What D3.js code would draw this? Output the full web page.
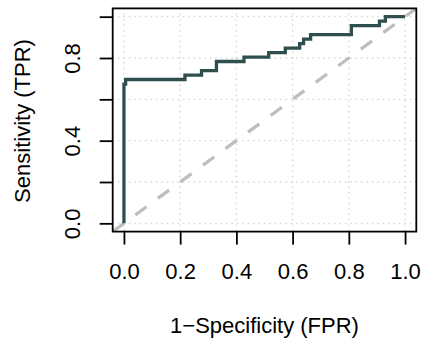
<!DOCTYPE html>
<html>
<head>
<meta charset="utf-8">
<script src="https://cdn.jsdelivr.net/npm/d3@7"></script>
<style>
  html, body { margin: 0; padding: 0; background: #ffffff; }
  svg { display: block; }
  text { font-family: "Liberation Sans", Arial, Helvetica, sans-serif; fill: #000; }
</style>
</head>
<body>
<svg id="chart" width="422" height="338"></svg>
<script>
// ROC curve vertices (1-Specificity, Sensitivity)
const fpr = [0, 0, 0.006, 0.006, 0.217, 0.217, 0.276, 0.276, 0.329, 0.329, 0.427, 0.427,
             0.515, 0.515, 0.574, 0.574, 0.625, 0.625, 0.639, 0.639, 0.664, 0.664,
             0.809, 0.809, 0.909, 0.909, 0.930, 0.930, 1.0];
const tpr = [0, 0.674, 0.674, 0.696, 0.696, 0.717, 0.717, 0.739, 0.739, 0.783, 0.783, 0.804,
             0.804, 0.826, 0.826, 0.848, 0.848, 0.870, 0.870, 0.891, 0.891, 0.913,
             0.913, 0.957, 0.957, 0.978, 0.978, 1.0, 1.0];
const xTicks = [0, 0.2, 0.4, 0.6, 0.8, 1.0];
const yTicks = [0, 0.2, 0.4, 0.6, 0.8, 1.0];
const yTickLabels = ["0.0", "", "0.4", "", "0.8", ""];
const xTitle = "1\u2212Specificity (FPR)";
const yTitle = "Sensitivity (TPR)";

const svg = d3.select("#chart");
const L = 112.7, R = 416.3, T = 8.4, B = 231.6;
const x = d3.scaleLinear().domain([-0.04, 1.04]).range([L, R]);
const y = d3.scaleLinear().domain([-0.04, 1.04]).range([B, T]);

// grid
const grid = svg.append("g");
grid.selectAll("line.gx").data(xTicks).enter().append("line")
  .attr("x1", d => x(d)).attr("x2", d => x(d)).attr("y1", T).attr("y2", B)
  .attr("stroke", "#d3d3d3").attr("stroke-width", 1.4).attr("stroke-dasharray", "1.4,4");
grid.selectAll("line.gy").data(yTicks).enter().append("line")
  .attr("y1", d => y(d)).attr("y2", d => y(d)).attr("x1", L).attr("x2", R)
  .attr("stroke", "#d3d3d3").attr("stroke-width", 1.4).attr("stroke-dasharray", "1.4,4");

// clip
svg.append("clipPath").attr("id", "clip").append("rect")
  .attr("x", L).attr("y", T).attr("width", R - L).attr("height", B - T);

// diagonal reference
svg.append("line").attr("clip-path", "url(#clip)")
  .attr("x1", x(-0.04)).attr("y1", y(-0.04)).attr("x2", x(1.04)).attr("y2", y(1.04))
  .attr("stroke", "#bebebe").attr("stroke-width", 3.3).attr("stroke-dasharray", "14,14");

// ROC curve
const pts = fpr.map((f, i) => [f, tpr[i]]);
svg.append("path").datum(pts)
  .attr("d", d3.line().x(d => x(d[0])).y(d => y(d[1])))
  .attr("fill", "none").attr("stroke", "#2f4f4f").attr("stroke-width", 3.3)
  .attr("stroke-linejoin", "miter");

// box
svg.append("rect").attr("x", L).attr("y", T).attr("width", R - L).attr("height", B - T)
  .attr("fill", "none").attr("stroke", "#000").attr("stroke-width", 1.8);

// axes
const xAxis = svg.append("g").attr("transform", `translate(0,${B})`)
  .call(d3.axisBottom(x).tickValues(xTicks).tickFormat(d3.format(".1f")).tickSize(13).tickPadding(19));
xAxis.select(".domain").remove();
xAxis.selectAll(".tick line").attr("stroke", "#000").attr("stroke-width", 1.8);
xAxis.selectAll(".tick text").attr("font-size", 22).attr("font-family", null);

const yAxis = svg.append("g").attr("transform", `translate(${L},0)`)
  .call(d3.axisLeft(y).tickValues(yTicks).tickFormat((d, i) => yTickLabels[i]).tickSize(13));
yAxis.select(".domain").remove();
yAxis.selectAll(".tick line").attr("stroke", "#000").attr("stroke-width", 1.8);
yAxis.selectAll(".tick text")
  .attr("font-size", 22).attr("font-family", null)
  .attr("x", 0).attr("dy", 0)
  .attr("text-anchor", "middle")
  .attr("transform", "translate(-32.7,0) rotate(-90)");

// titles
svg.append("text").attr("x", (L + R) / 2).attr("y", 333)
  .attr("text-anchor", "middle").attr("font-size", 22).text(xTitle);
svg.append("text").attr("transform", `translate(29.5,${(T + B) / 2 + 1}) rotate(-90)`)
  .attr("text-anchor", "middle").attr("font-size", 22).text(yTitle);
</script>
</body>
</html>
